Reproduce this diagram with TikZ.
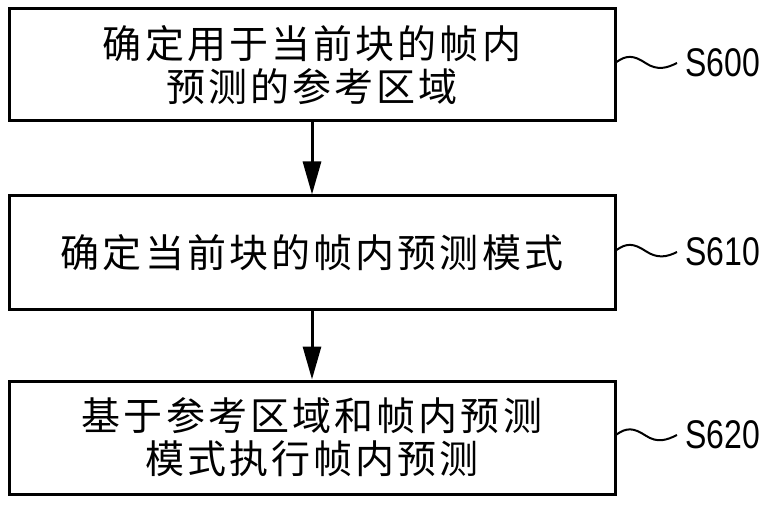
\documentclass[tikz,border=0pt]{standalone}
\usepackage{fontspec}
\usetikzlibrary{arrows.meta}
\newfontfamily\cjkfont[LetterSpace=8]{Noto Sans CJK SC}
\newfontfamily\stepfont[FakeStretch=0.8]{Liberation Sans}

\tikzset{
    stepbox/.style={draw, line width=3pt, minimum width=606pt, inner sep=0pt,
        align=center, font=\cjkfont\fontsize{39}{43}\selectfont},
    steplabel/.style={anchor=west, inner xsep=8pt, inner ysep=0pt,
        font=\stepfont\fontsize{40}{40}\selectfont},
    tilde/.style={line width=2pt},
    flow/.style={line width=3pt, -{Triangle[length=33pt,width=18pt]}}
}

\begin{document}
\begin{tikzpicture}[x=1pt, y=-1pt]
        \useasboundingbox (0,0) rectangle (769,505);

        % Reference region
        \node[stepbox, minimum height=112pt] (s600) at (312,65)
            {确定用于当前块的帧内\\预测的参考区域};
        \node[steplabel] (l600) at (677,63) {S600};

        % Prediction mode
        \node[stepbox, minimum height=114pt] (s610) at (312,253)
            {确定当前块的帧内预测模式};
        \node[steplabel] (l610) at (677,252) {S610};

        % Intra prediction
        \node[stepbox, minimum height=113pt] (s620) at (312,437.5)
            {基于参考区域和帧内预测\\模式执行帧内预测};
        \node[steplabel] (l620) at (677,435) {S620};

        % Flow
        \draw[flow] (s600.south) -- (s610.north);
        \draw[flow] (s610.south) -- (s620.north);

        % Step numbers
        \foreach \s in {600,610,620}
            \draw[tilde] ([yshift=3pt]s\s.east) .. controls +(10,-7) and +(-12,-8) .. ++(29,1)
                .. controls +(12,8) and +(-10,5) .. (l\s.west);
    \end{tikzpicture}
\end{document}
